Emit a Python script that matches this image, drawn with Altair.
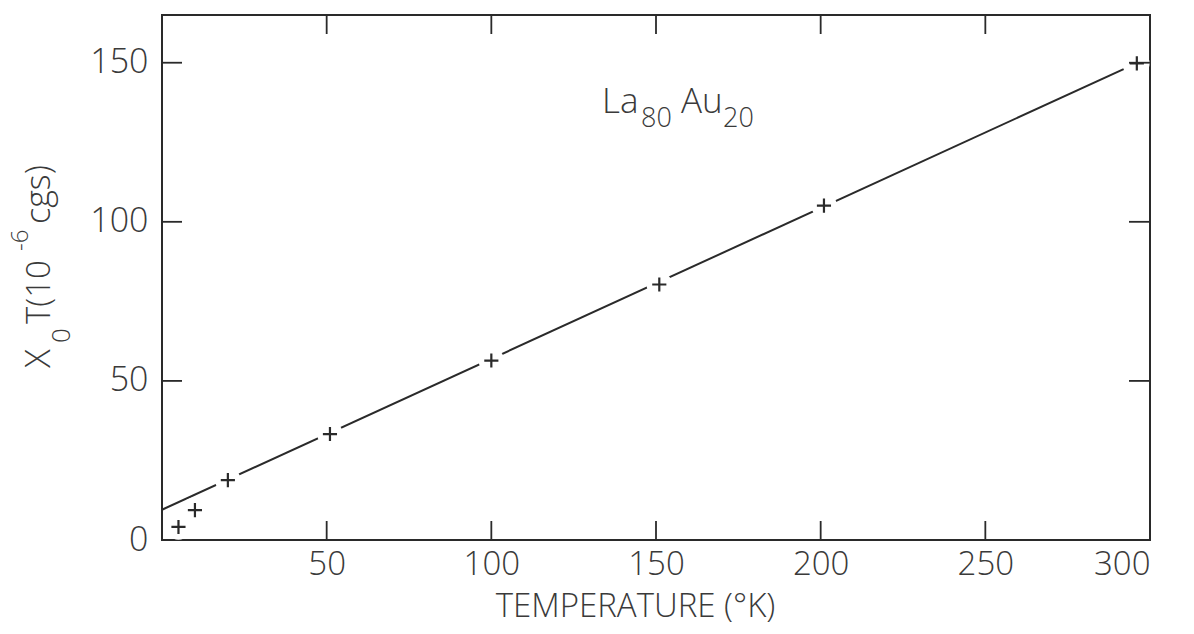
import altair as alt
import pandas as pd

# data
temp = [5, 10, 20, 51, 100, 151, 201, 296]
chiT = [4.1, 9.4, 18.8, 33.3, 56.4, 80.3, 105.1, 149.8]
fit_x = [0, 292]
fit_y = [9.5, 148]
x_ticks = [50, 100, 150, 200, 250, 300]
y_ticks = [0, 50, 100, 150]
top_ticks = [50, 100, 150, 200, 250]
side_ticks = [50, 100, 150]

W, H = 988, 525
L, T = 162, 15
INK = "#2a2a2a"
TXT = "#3a3a3a"
FONT = "Open Sans"

xs = alt.Scale(domain=[0, 300], nice=False, zero=False)
ys = alt.Scale(domain=[0, 165], nice=False, zero=False)

pts = pd.DataFrame({"T": temp, "C": chiT})
fit = pd.DataFrame({"T": fit_x, "C": fit_y})

xaxis = alt.Axis(values=x_ticks, ticks=False, domain=False, grid=False,
                 labelFont=FONT, labelFontSize=33, labelColor=TXT, labelFontWeight=300,
                 labelPadding=8, title="TEMPERATURE (°K)", titleFont=FONT,
                 titleFontSize=33, titleFontWeight=300, titleColor=TXT,
                 titleX=473, titleY=50, titleAnchor="middle")
yaxis = alt.Axis(values=y_ticks, ticks=False, domain=False, grid=False,
                 labelFont=FONT, labelFontSize=34, labelColor=TXT, labelFontWeight=300,
                 labelPadding=14, title=None)

line = alt.Chart(fit).mark_line(color=INK, strokeWidth=2).encode(
    x=alt.X("T:Q", scale=xs, axis=xaxis),
    y=alt.Y("C:Q", scale=ys, axis=yaxis),
)
gaps = alt.Chart(pts).mark_point(shape="circle", filled=True, color="white",
                                 opacity=1, size=650, strokeWidth=0).encode(
    x=alt.X("T:Q", scale=xs), y=alt.Y("C:Q", scale=ys))
crosses = alt.Chart(pts).mark_point(shape="M-1,0L1,0M0,-1L0,1", filled=False,
                                    color=INK, strokeWidth=2.2, size=200,
                                    opacity=1).encode(
    x=alt.X("T:Q", scale=xs), y=alt.Y("C:Q", scale=ys))

tb = pd.DataFrame({"v": x_ticks})
bottom_ticks = alt.Chart(tb).mark_rule(color=INK, strokeWidth=1.8).encode(
    x=alt.X("v:Q", scale=xs), y=alt.value(H), y2=alt.value(H - 19))
tt = pd.DataFrame({"v": top_ticks})
topt = alt.Chart(tt).mark_rule(color=INK, strokeWidth=1.8).encode(
    x=alt.X("v:Q", scale=xs), y=alt.value(0), y2=alt.value(19))
ly = pd.DataFrame({"v": side_ticks})
left_ticks = alt.Chart(ly).mark_rule(color=INK, strokeWidth=1.8).encode(
    y=alt.Y("v:Q", scale=ys), x=alt.value(0), x2=alt.value(20))
right_ticks = alt.Chart(ly).mark_rule(color=INK, strokeWidth=1.8).encode(
    y=alt.Y("v:Q", scale=ys), x=alt.value(W), x2=alt.value(W - 21))

lab = pd.DataFrame({"T": [133.6], "C": [134.2]})
def part(text, dx, dy, size):
    return alt.Chart(lab).mark_text(text=text, align="left", baseline="alphabetic",
                                    dx=dx, dy=dy, font=FONT, fontSize=size,
                                    fontWeight=300, color=TXT).encode(
        x=alt.X("T:Q", scale=xs), y=alt.Y("C:Q", scale=ys))

annot = part("La", 0, 0, 35) + part("80", 39, 14, 27) + part("Au", 79, 0, 35) + part("20", 121, 14, 27)

# rotated y-axis title built from pieces (page coords -> plot coords)
def ypart(text, px, py, size):
    return alt.Chart(lab).mark_text(text=text, align="left", baseline="alphabetic",
                                    angle=270, font=FONT, fontSize=size,
                                    fontWeight=300, color=TXT).encode(
        x=alt.value(px - L), y=alt.value(py - T))

ytitle = (ypart("X", 50, 368, 35) + ypart("0", 70, 343, 26) +
          ypart("T(10", 50, 324, 33) + ypart("-6", 28, 251, 24) +
          ypart("cgs)", 50, 224, 34))

chart = alt.layer(line, gaps, crosses, bottom_ticks, topt, left_ticks, right_ticks,
                  annot, ytitle).properties(
    width=W, height=H,
    background="white",
    autosize=alt.AutoSizeParams(type="none"),
    padding={"left": L, "top": T, "right": 44, "bottom": 94},
).configure_view(stroke=INK, strokeWidth=2)

chart.save("out.html", embed_options={"renderer": "svg", "actions": False})
